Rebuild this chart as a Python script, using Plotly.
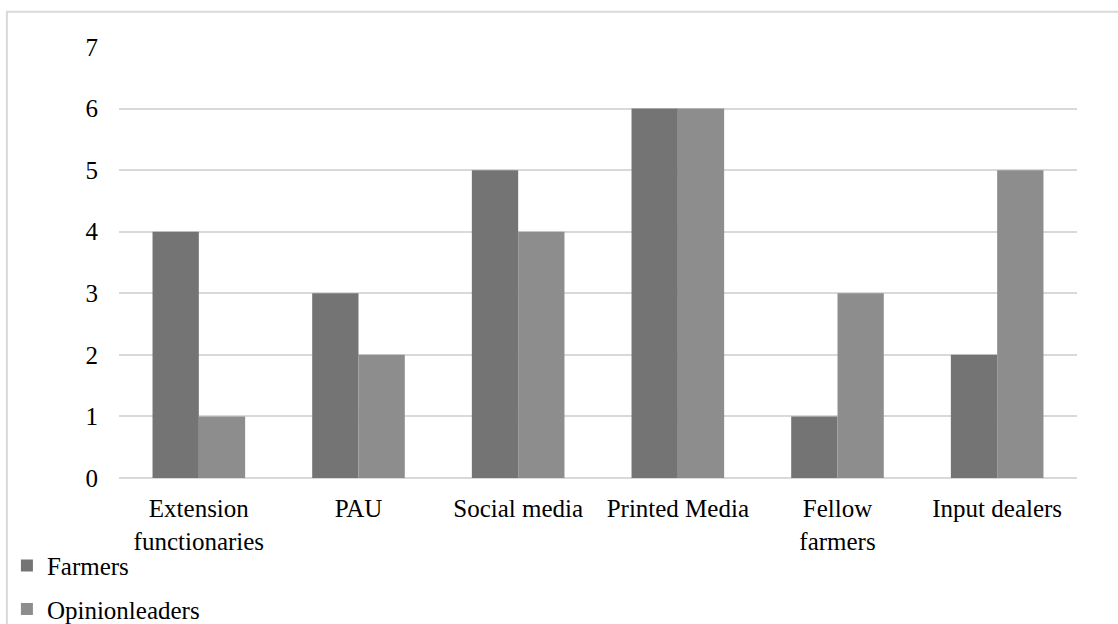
import plotly.graph_objects as go

categories = ["Extension<br>functionaries", "PAU", "Social media", "Printed Media",
              "Fellow<br>farmers", "Input dealers"]
farmers = [4, 3, 5, 6, 1, 2]
opinion_leaders = [1, 2, 4, 6, 3, 5]
y_ticks = [0, 1, 2, 3, 4, 5, 6, 7]

FONT = "Liberation Serif, Times New Roman, serif"

fig = go.Figure()
fig.add_trace(go.Bar(name="Farmers", x=categories, y=farmers, legendgroup="f",
                     marker=dict(color="#747474", line=dict(width=0))))
fig.add_trace(go.Bar(name="Opinionleaders", x=categories, y=opinion_leaders,
                     legendgroup="o",
                     marker=dict(color="#8d8d8d", line=dict(width=0))))

fig.update_layout(
    width=1118, height=624,
    margin=dict(l=119, r=41, t=47, b=146, autoexpand=False),
    paper_bgcolor="white", plot_bgcolor="white",
    barmode="group", bargap=0.42, bargroupgap=0,
    font=dict(family=FONT, size=25, color="black"),
    showlegend=True,
    legend=dict(x=-0.117, y=-0.15, xanchor="left", yanchor="top",
                orientation="v",
                font=dict(family=FONT, size=25, color="black"),
                itemwidth=30, tracegroupgap=8, bgcolor="rgba(0,0,0,0)"),
    shapes=[dict(type="rect", xref="paper", yref="paper",
                 x0=-0.117, x1=1.1, y0=-0.4, y1=1.082,
                 line=dict(color="#d9d9d9", width=2), fillcolor="rgba(0,0,0,0)",
                 layer="below")],
)
fig.update_xaxes(showgrid=False, showline=False, zeroline=False, ticks="",
                 automargin=False, ticklabelstandoff=13,
                 tickfont=dict(family=FONT, size=25))
fig.update_yaxes(range=[0, 7], tickvals=y_ticks, showgrid=True,
                 gridcolor="#d9d9d9", gridwidth=2, zeroline=True,
                 zerolinecolor="#d9d9d9", zerolinewidth=2, showline=False,
                 automargin=False, ticks="", ticklabelstandoff=20,
                 tickfont=dict(family=FONT, size=25))

fig.write_html("out.html")
